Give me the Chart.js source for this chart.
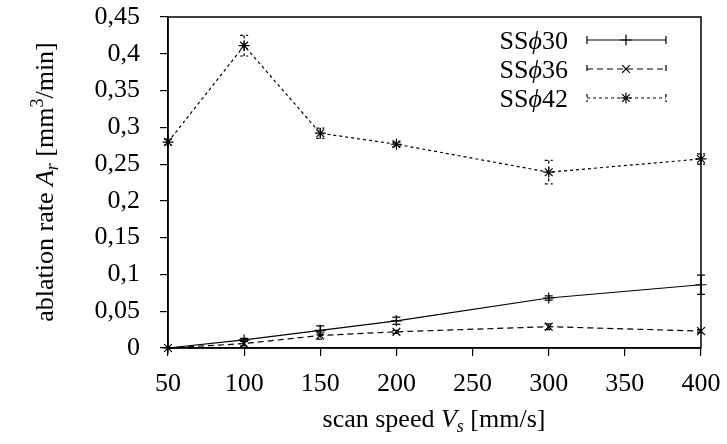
<!DOCTYPE html>
<html>
<head>
  <title>Ablation rate vs scan speed</title>
  <script src="https://cdn.jsdelivr.net/npm/chart.js"></script>
  <style>
    body { margin: 0; background: #fff; }
  </style>
</head>
<body>
  <canvas id="chart" width="727" height="444"></canvas>

  <script>
    const speeds = [50, 100, 150, 200, 300, 400];
    const ss30 = [0, 0.011, 0.024, 0.037, 0.068, 0.086];
    const ss30Err = [0, 0.002, 0.006, 0.005, 0.003, 0.013];
    const ss36 = [0, 0.006, 0.017, 0.022, 0.029, 0.023];
    const ss36Err = [0, 0.003, 0.005, 0.002, 0.004, 0.002];
    const ss42 = [0.28, 0.411, 0.292, 0.277, 0.239, 0.257];
    const ss42Err = [0.004, 0.014, 0.007, 0.003, 0.016, 0.007];
    const seriesNames = ["30", "36", "42"];

    const FONT = "Liberation Serif";
    const SIZE = 26;

    function points(vals) {
      return speeds.map((x, i) => ({ x: x, y: vals[i] }));
    }

    function series(label, vals, errs, style, dash) {
      return {
        label: label,
        data: points(vals),
        errors: errs,
        borderColor: "#000",
        backgroundColor: "#000",
        borderWidth: 1.2,
        borderDash: dash,
        pointStyle: style,
        pointRadius: 5.5,
        pointBorderWidth: 1.2,
        pointBorderColor: "#000",
        tension: 0,
        clip: false
      };
    }

    function fontFor(p) {
      return (p.italic ? "italic " : "") + (p.size || SIZE) + "px '" + FONT + "'";
    }

    function richWidth(ctx, parts) {
      let w = 0;
      parts.forEach(p => { ctx.font = fontFor(p); w += ctx.measureText(p.t).width; });
      return w;
    }

    // draws a run of text pieces (italic, sub/superscript) starting at x
    function drawRich(ctx, parts, x, y) {
      let cx = x;
      ctx.textAlign = "left";
      ctx.textBaseline = "alphabetic";
      parts.forEach(p => {
        ctx.font = fontFor(p);
        ctx.fillText(p.t, cx, y + (p.dy || 0));
        cx += ctx.measureText(p.t).width;
      });
    }

    const errorBars = {
      id: "errorBars",
      afterDatasetsDraw(chart) {
        const ctx = chart.ctx;
        const xs = chart.scales.x, ys = chart.scales.y;
        chart.data.datasets.forEach(ds => {
          ctx.save();
          ctx.strokeStyle = "#000";
          ctx.lineWidth = 1.2;
          ctx.setLineDash(ds.borderDash || []);
          ds.data.forEach((p, i) => {
            const e = ds.errors[i];
            if (!e) return;
            const px = xs.getPixelForValue(p.x);
            const top = ys.getPixelForValue(p.y + e);
            const bot = ys.getPixelForValue(p.y - e);
            ctx.beginPath();
            ctx.moveTo(px, top); ctx.lineTo(px, bot);
            ctx.moveTo(px - 4, top); ctx.lineTo(px + 4, top);
            ctx.moveTo(px - 4, bot); ctx.lineTo(px + 4, bot);
            ctx.stroke();
          });
          ctx.restore();
        });
      }
    };

    const frame = {
      id: "frame",
      afterDraw(chart) {
        const ctx = chart.ctx;
        const a = chart.chartArea;
        ctx.save();
        ctx.strokeStyle = "#000";
        ctx.fillStyle = "#000";
        ctx.lineWidth = 1.5;
        ctx.setLineDash([]);
        ctx.strokeRect(a.left, a.top, a.right - a.left, a.bottom - a.top);

        // legend, text right-aligned before the sample line
        const rows = [40, 69, 98];
        chart.data.datasets.forEach((ds, i) => {
          const y = rows[i];
          const parts = [{ t: "SS" }, { t: "\u03D5", italic: true }, { t: seriesNames[i] }];
          drawRich(ctx, parts, 568 - richWidth(ctx, parts), y + 9);

          ctx.lineWidth = 1.2;
          ctx.setLineDash(ds.borderDash || []);
          ctx.beginPath();
          ctx.moveTo(587, y); ctx.lineTo(666, y);
          ctx.moveTo(587, y - 4); ctx.lineTo(587, y + 4);
          ctx.moveTo(666, y - 4); ctx.lineTo(666, y + 4);
          ctx.stroke();
          ctx.setLineDash([]);
          Chart.helpers.drawPoint(ctx, { pointStyle: ds.pointStyle, radius: 5.5, borderWidth: 1.2 }, 626, y);
        });

        // axis titles
        const yTitle = [
          { t: "ablation rate " },
          { t: "A", italic: true },
          { t: "r", italic: true, size: 18, dy: 5 },
          { t: " [mm" },
          { t: "3", size: 18, dy: -10 },
          { t: "/min]" }
        ];
        ctx.save();
        ctx.translate(53, 182);
        ctx.rotate(-Math.PI / 2);
        drawRich(ctx, yTitle, -richWidth(ctx, yTitle) / 2, 0);
        ctx.restore();

        const xTitle = [
          { t: "scan speed " },
          { t: "V", italic: true },
          { t: "s", italic: true, size: 18, dy: 5 },
          { t: " [mm/s]" }
        ];
        drawRich(ctx, xTitle, 434 - richWidth(ctx, xTitle) / 2, 427);
        ctx.restore();
      }
    };

    const tickFont = { family: FONT, size: SIZE };

    new Chart(document.getElementById("chart").getContext("2d"), {
      type: "line",
      data: {
        datasets: [
          series("SS\u03D530", ss30, ss30Err, "cross", []),
          series("SS\u03D536", ss36, ss36Err, "crossRot", [6, 4]),
          series("SS\u03D542", ss42, ss42Err, "star", [3, 3])
        ]
      },
      options: {
        responsive: false,
        animation: false,
        layout: { padding: { top: 17, right: 26, left: 0, bottom: 0 } },
        plugins: { legend: { display: false }, tooltip: { enabled: false } },
        scales: {
          x: {
            type: "linear",
            min: 50, max: 400,
            afterFit: s => { s.height = 96; s.paddingLeft = 0; s.paddingRight = 0; },
            border: { display: true, color: "#000", width: 1.5 },
            grid: { drawOnChartArea: false, tickLength: 8, color: "#000", tickColor: "#000", lineWidth: 1.2 },
            ticks: { stepSize: 50, color: "#000", font: tickFont, padding: 13, maxRotation: 0 }
          },
          y: {
            min: 0, max: 0.45,
            afterFit: s => { s.width = 168; s.paddingTop = 0; s.paddingBottom = 0; },
            border: { display: true, color: "#000", width: 1.5 },
            grid: { drawOnChartArea: false, tickLength: 8, color: "#000", tickColor: "#000", lineWidth: 1.2 },
            ticks: {
              stepSize: 0.05, color: "#000", font: tickFont, padding: 20,
              callback: v => String(+v.toFixed(2)).replace(".", ",")
            }
          }
        }
      },
      plugins: [errorBars, frame]
    });
  </script>
</body>
</html>
